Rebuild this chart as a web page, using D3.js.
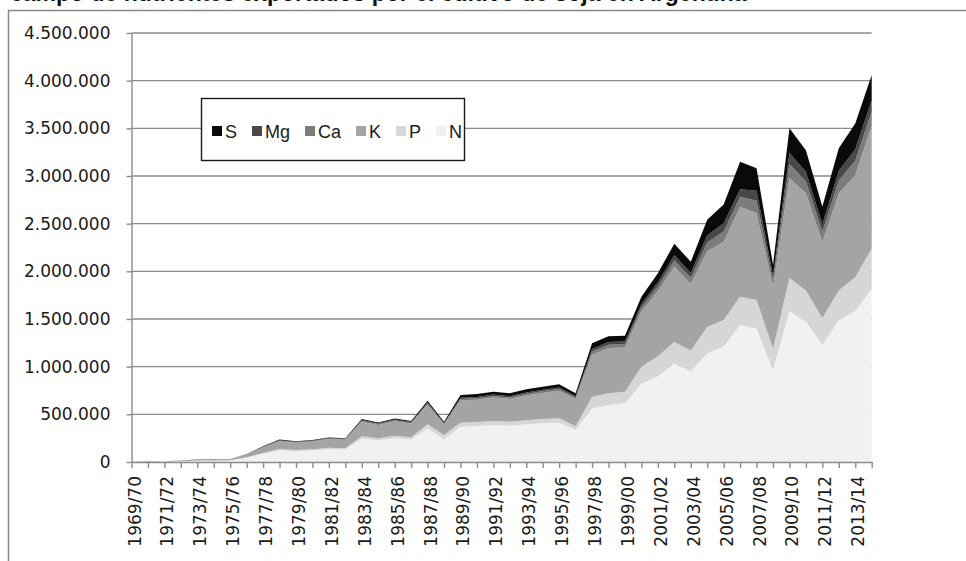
<!DOCTYPE html>
<html>
<head>
<meta charset="utf-8">
<script src="https://cdn.jsdelivr.net/npm/d3@7"></script>
<style>
  body { margin: 0; background: #fff; }
  svg { display: block; }
</style>
</head>
<body>
<div class="chart-container"></div>
<script>
// Seasons on the x axis (every other one gets a label)
const seasons = [
    "1969/70", "1970/71", "1971/72", "1972/73", "1973/74", "1974/75", "1975/76", "1976/77",
    "1977/78", "1978/79", "1979/80", "1980/81", "1981/82", "1982/83", "1983/84", "1984/85",
    "1985/86", "1986/87", "1987/88", "1988/89", "1989/90", "1990/91", "1991/92", "1992/93",
    "1993/94", "1994/95", "1995/96", "1996/97", "1997/98", "1998/99", "1999/00", "2000/01",
    "2001/02", "2002/03", "2003/04", "2004/05", "2005/06", "2006/07", "2007/08", "2008/09",
    "2009/10", "2010/11", "2011/12", "2012/13", "2013/14", "2014/15"
];

// Nutrients (tonnes), stacked from the bottom: N, P, K, Ca, Mg, S
const nValues = [
    1000, 2100, 4200, 7800, 13000, 14600, 16600, 44200,
    85800, 122000, 113000, 120600, 134200, 130000, 246000, 227000,
    250000, 235000, 353000, 238000, 370000, 378000, 388000, 381000,
    395000, 406000, 413000, 336000, 563000, 598000, 615000, 820000,
    900000, 1030000, 950000, 1140000, 1210000, 1437000, 1400000, 965000,
    1580000, 1470000, 1230000, 1490000, 1580000, 1820000
];
const pValues = [
    100, 250, 500, 900, 1500, 1700, 1900, 5100,
    9900, 14100, 13100, 13900, 15500, 15000, 25000, 23000,
    25500, 24000, 42000, 45000, 43000, 42000, 42000, 42000,
    43000, 44000, 45000, 40000, 122000, 122000, 123000, 180000,
    210000, 230000, 220000, 280000, 280000, 297000, 300000, 225000,
    350000, 330000, 280000, 310000, 360000, 420000
];
const kValues = [
    700, 1400, 2800, 5300, 8800, 9800, 11200, 29800,
    57700, 82300, 76400, 81200, 90300, 87500, 151000, 139000,
    153000, 144000, 205000, 110000, 232000, 233000, 246000, 237000,
    260000, 274000, 289000, 284000, 440000, 475000, 462000, 580000,
    680000, 790000, 700000, 790000, 820000, 944000, 910000, 650000,
    1050000, 1020000, 800000, 1020000, 1070000, 1290000
];
const caValues = [
    50, 100, 200, 400, 600, 700, 800, 2100,
    4100, 5900, 5500, 5800, 6500, 6300, 10000, 9500,
    10500, 10000, 14000, 8500, 16000, 17000, 17000, 17000,
    18000, 18000, 19000, 17000, 34000, 35000, 35000, 43000,
    53000, 67000, 64000, 92000, 109000, 105000, 130000, 64000,
    145000, 126000, 104000, 132000, 151000, 148000
];
const mgValues = [
    50, 80, 150, 300, 500, 600, 700, 1700,
    3300, 4700, 4400, 4600, 5200, 5000, 8000, 7500,
    8000, 7500, 11000, 6500, 13000, 13000, 14000, 13000,
    14000, 15000, 15000, 13000, 26000, 28000, 28000, 34000,
    42000, 53000, 51000, 73000, 86000, 77000, 105000, 51000,
    115000, 99000, 81000, 103000, 119000, 117000
];
const sValues = [
    100, 70, 150, 300, 600, 600, 800, 2100,
    4200, 6000, 5600, 5900, 6300, 6200, 10000, 9000,
    10000, 9500, 18000, 15000, 29000, 30000, 31000, 30000,
    32000, 33000, 34000, 30000, 60000, 62000, 62000, 77000,
    95000, 120000, 115000, 165000, 195000, 290000, 235000, 115000,
    260000, 225000, 185000, 235000, 270000, 265000
];

const keys = ["N", "P", "K", "Ca", "Mg", "S"];
const colors = {N: "#f1f1f1", P: "#d6d6d6", K: "#a4a4a4", Ca: "#7c7c7c", Mg: "#484848", S: "#0a0a0a"};
const legendOrder = ["S", "Mg", "Ca", "K", "P", "N"];
const yTicks = [0, 500000, 1000000, 1500000, 2000000, 2500000, 3000000, 3500000, 4000000, 4500000];

// Title line, cropped at the top edge in the original picture
const title = "campo de nutrientes exportados por el cultivo de soja en Argentina";

// Table for d3.stack
const rows = seasons.map((s, i) => ({
    season: s,
    N: nValues[i], P: pValues[i], K: kValues[i],
    Ca: caValues[i], Mg: mgValues[i], S: sValues[i]
}));

const W = 966, H = 561;
const svg = d3.select(".chart-container")
    .append("svg")
        .attr("width", W)
        .attr("height", H);

svg.append("text")
    .attr("x", 10)
    .attr("y", 0.5)
    .attr("font-family", "Liberation Sans, Arial, sans-serif")
    .attr("font-weight", "bold")
    .attr("font-size", 23)
    .attr("fill", "#111")
    .text(title);

// Chart frame
svg.append("rect")
    .attr("x", 8.5).attr("y", 10.5)
    .attr("width", W + 20).attr("height", H + 20)
    .attr("fill", "none")
    .attr("stroke", "#8a8a8a")
    .attr("stroke-width", 1.5);

const xScale = d3.scalePoint().domain(seasons).range([131.5, 871.7]);
const yScale = d3.scaleLinear().domain([0, 4500000]).range([462, 33]);

const locale = d3.formatLocale({decimal: ",", thousands: ".", grouping: [3], currency: ["", ""]});
const fmt = locale.format(",d");

// Gridlines
svg.append("g")
    .selectAll("line")
    .data(yTicks.filter(d => d > 0))
    .join("line")
        .attr("x1", xScale.range()[0])
        .attr("x2", xScale.range()[1])
        .attr("y1", d => yScale(d))
        .attr("y2", d => yScale(d))
        .attr("stroke", "#8c8c8c")
        .attr("stroke-width", 1.4);

// Stacked areas
const series = d3.stack().keys(keys)(rows);
const area = d3.area()
    .x(d => xScale(d.data.season))
    .y0(d => yScale(d[0]))
    .y1(d => yScale(d[1]));

svg.append("g")
    .selectAll("path")
    .data(series)
    .join("path")
        .attr("d", area)
        .attr("fill", d => colors[d.key]);

// Axes
const gY = svg.append("g")
    .attr("transform", `translate(${xScale.range()[0]},0)`)
    .call(d3.axisLeft(yScale).tickValues(yTicks).tickFormat(fmt).tickSize(5).tickSizeOuter(0).tickPadding(16));

const gX = svg.append("g")
    .attr("transform", `translate(0,${yScale(0)})`)
    .call(d3.axisBottom(xScale).tickSize(6).tickSizeOuter(0)
        .tickFormat((d, i) => i % 2 === 0 ? d : ""));

gX.selectAll("text")
    .attr("transform", "rotate(-90)")
    .attr("x", -14)
    .attr("y", 0)
    .attr("dy", "0.5em")
    .attr("text-anchor", "end");

[gX, gY].forEach(g => {
    g.selectAll("path, line").attr("stroke", "#8a8a8a").attr("stroke-width", 1.4);
    g.selectAll("text")
        .attr("font-family", "DejaVu Sans, Verdana, sans-serif")
        .attr("font-size", 17)
        .attr("fill", "#1a1a1a");
});

// Legend
const legend = svg.append("g");
legend.append("rect")
    .attr("x", 201.5).attr("y", 98.5)
    .attr("width", 263).attr("height", 62)
    .attr("fill", "#fff")
    .attr("stroke", "#1a1a1a")
    .attr("stroke-width", 1.4);

let lx = 212;
legendOrder.forEach(k => {
    legend.append("rect")
        .attr("x", lx).attr("y", 126)
        .attr("width", 10).attr("height", 10)
        .attr("fill", colors[k]);
    const t = legend.append("text")
        .attr("x", lx + 13)
        .attr("y", 137.5)
        .attr("font-family", "Liberation Sans, Arial, sans-serif")
        .attr("font-size", 18)
        .attr("fill", "#1a1a1a")
        .text(k);
    lx += 13 + t.node().getComputedTextLength() + 15;
});
</script>
</body>
</html>
